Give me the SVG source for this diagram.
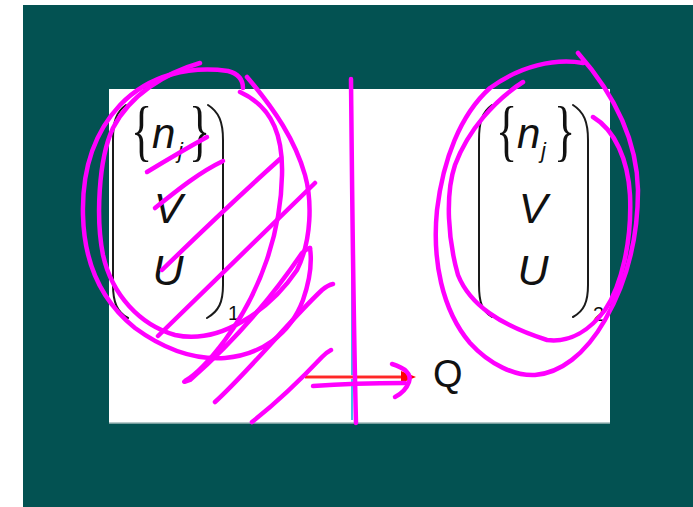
<svg xmlns="http://www.w3.org/2000/svg" width="693" height="507" viewBox="0 0 693 507">
<style>
.it{font-family:"Liberation Sans",Arial,sans-serif;font-style:italic;fill:#111}
.rm{font-family:"Liberation Sans",Arial,sans-serif;fill:#111}
.br{font-family:"Liberation Serif","Times New Roman",serif;fill:#111;font-size:68px}
.par{fill:none;stroke:#1a1a1a;stroke-width:2;stroke-linecap:round}
.ink{fill:none;stroke:#ff00ff;stroke-width:4.5;stroke-linecap:round;stroke-linejoin:round}
</style>
<rect width="693" height="507" fill="#ffffff"/>
<rect x="23" y="5" width="670" height="502" fill="#035252"/>
<rect x="109" y="89" width="501" height="334" fill="#ffffff"/>
<line x1="109" y1="423" x2="610" y2="423" stroke="#9fb9b9" stroke-width="1.5"/>
<line x1="352" y1="92" x2="352" y2="420" stroke="#3cc4e4" stroke-width="2"/>

<g id="matrix1">
<path class="par" d="M126,105 C116,112 113,122 113,140 L113,285 C113,302 117,312 128,318"/>
<path class="par" d="M208,105 C219,112 223,122 223,140 L223,285 C223,302 219,311 207,318"/>
<text class="br" transform="translate(131,153) scale(0.65,1)">{</text>
<text class="it" x="152" y="148" font-size="42">n</text>
<text class="it" x="178" y="158" font-size="22">j</text>
<text class="br" transform="translate(189,153) scale(0.65,1)">}</text>
<text class="it" x="168" y="223" font-size="43" text-anchor="middle">V</text>
<text class="it" x="168" y="285" font-size="43" text-anchor="middle">U</text>
<text class="rm" x="228" y="320" font-size="20">1</text>
</g>

<g id="matrix2">
<path class="par" d="M492,105 C482,112 479,122 479,140 L479,285 C479,302 482,311 492,317"/>
<path class="par" d="M573,105 C584,112 588,122 588,140 L588,285 C588,302 584,311 573,317"/>
<text class="br" transform="translate(496,153) scale(0.65,1)">{</text>
<text class="it" x="517" y="148" font-size="42">n</text>
<text class="it" x="541" y="158" font-size="22">j</text>
<text class="br" transform="translate(554,153) scale(0.65,1)">}</text>
<text class="it" x="533" y="223" font-size="43" text-anchor="middle">V</text>
<text class="it" x="533" y="285" font-size="43" text-anchor="middle">U</text>
<text class="rm" x="593" y="321" font-size="20">2</text>
</g>

<g id="q">
<text class="rm" x="433" y="387" font-size="38">Q</text>
</g>

<g id="connectors">
<line x1="305" y1="377" x2="404" y2="377" stroke="#ff9a9a" stroke-width="4"/>
<line x1="305" y1="377" x2="404" y2="377" stroke="#ff0000" stroke-width="1.5"/>
<path d="M401,371 L416,377 L401,383 Z" fill="#ff0000"/>
</g>

<g id="scribbles">
<path class="ink" d="M351,79 C352,180 353,300 356,423"/>
<path class="ink" d="M313,386 C340,384 380,383 405,383"/>
<path class="ink" d="M392,364 C405,368 412,374 409,382 C406,390 401,394 395,397"/>
<path class="ink" d="M147,172 Q180,152 207,137"/>
<path class="ink" d="M155,208 C180,188 200,172 223,161"/>
<path class="ink" d="M162,270 C200,233 240,195 280,159"/>
<path class="ink" d="M158,336 C210,285 265,232 315,183"/>
<path class="ink" d="M240,92 C275,108 283,140 282,175 C281,230 262,290 225,340 C210,360 195,375 185,381 Q182,383 190,380 C230,345 270,300 302,253 Q306,249 310,248"/>
<path class="ink" d="M215,402 C250,370 290,320 322,290 Q328,285 333,284"/>
<path class="ink" d="M252,422 C280,400 305,375 322,357 Q327,352 331,350"/>
<path class="ink" d="M200,63 C165,73 130,95 113,128 C98,160 96,220 103,255 C112,295 140,325 175,335 C220,345 270,310 297,270 C312,240 312,200 305,175 C295,140 275,110 247,77"/>
<path class="ink" d="M243,88 Q243,75 228,71 C190,66 150,74 120,105 C92,135 82,175 83,215 C84,260 100,300 135,328 C165,350 195,360 225,358 C260,355 290,335 303,300 C310,280 312,262 310,248"/>
<path class="ink" d="M583,63 C555,58 520,66 490,88 C460,115 443,160 437,210 C432,260 442,310 470,343 C490,365 515,376 535,375 C560,373 585,355 605,320 C625,285 638,240 638,190 C637,140 615,95 578,53"/>
<path class="ink" d="M523,82 C495,100 468,130 455,165 C445,195 448,240 458,275 C470,305 500,325 547,340 C570,343 590,330 605,310 C622,285 632,240 630,195 C628,160 615,130 593,117"/>
</g>
</svg>
